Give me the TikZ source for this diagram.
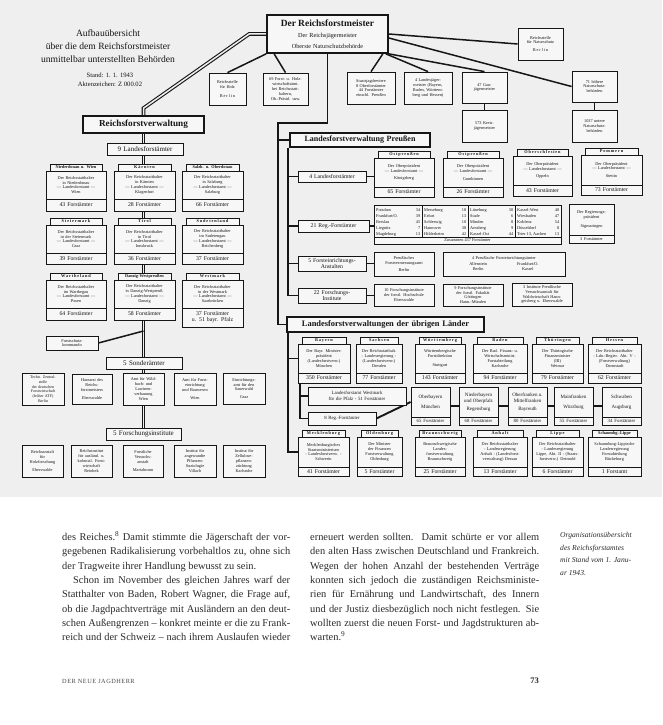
\documentclass[tikz,border=0pt]{standalone}
\usepackage{fontspec}
\setmainfont{Liberation Serif}
\usetikzlibrary{calc}
\definecolor{ink}{HTML}{161616}
\definecolor{bgc}{HTML}{EFEFEF}
\definecolor{boxf}{HTML}{F7F7F7}
\definecolor{txt}{HTML}{2A2A2A}
\pgfdeclarelayer{bgl}\pgfdeclarelayer{lnl}\pgfsetlayers{bgl,lnl,main}
\newcommand\tsz{\fontsize{4.3}{4.9}\selectfont}
\newcommand\csz{\fontsize{5.8}{6.2}\selectfont}
\newcommand\hsz{\fontsize{4.3}{4.5}\selectfont\bfseries}
\newcommand\lsp[1]{{\addfontfeatures{LetterSpace=20}#1}}
\newcommand\ssz{\fontsize{4.8}{5}\selectfont}
\tikzset{
 bx/.style={draw=ink,fill=boxf,line width=0.8pt,inner sep=0pt,align=center,font=\tsz,text=ink},
 upper/.style={},
 lower/.style={font=\csz},
 hdr/.style={font=\hsz},
 heavy/.style={line width=1.7pt},
 dbl/.style={draw=ink,line width=1.1pt,double=bgc,double distance=1.5pt},
 thk/.style={draw=ink,line width=1.9pt},
 ln/.style={draw=ink,line width=1.5pt},
 body/.style={font=\fontsize{10.4}{12}\selectfont,text=txt,inner sep=0pt,anchor=base west},
}
\newcommand\mybox[7][]{%
 \pgfmathsetmacro\bw{#5-#3}\pgfmathsetmacro\bh{#6-#4}%
 \pgfmathsetmacro\btw{#5-#3-1.5}%
 \pgfmathsetmacro\bcx{(#3+#5)/2}\pgfmathsetmacro\bcy{(#4+#6)/2}%
 \node[bx,minimum width=\bw pt,minimum height=\bh pt,text width=\btw pt,#1] (#2) at (\bcx,\bcy) {#7};}
\newcommand\splitbox[8]{%
 \mybox[upper]{#1}{#2}{#3}{#4}{#5}{#7}%
 \mybox[lower]{#1c}{#2}{#5}{#4}{#6}{#8}}
\newcommand\landbox[9]{%
 \pgfmathsetmacro\hxa{#2+4}\pgfmathsetmacro\hxb{#4-4}\pgfmathsetmacro\hya{#3-7}%
 \mybox[hdr]{#1h}{\hxa}{\hya}{\hxb}{#3}{#7}%
 \splitbox{#1}{#2}{#3}{#4}{#5}{#6}{#8}{#9}}
\newcommand\jl[1]{\makebox[228pt][s]{\spaceskip=0.25em plus 0.4em minus 0.1em #1}}
\newcommand\jr[1]{\makebox[229pt][s]{\spaceskip=0.25em plus 0.4em minus 0.1em #1}}
\begin{document}
\begin{tikzpicture}[x=1pt,y=-1pt]
\useasboundingbox (0,0) rectangle (662,725);
\begin{pgfonlayer}{bgl}
\fill[white] (0,0) rectangle (662,725);
\fill[bgc] (0,0) rectangle (662,497);
\end{pgfonlayer}

% title
\node[font=\fontsize{9.6}{13}\selectfont,text=ink,align=center] (ttl) at (108,46) {Aufbauübersicht\\über die dem Reichsforstmeister\\unmittelbar unterstellten Behörden};
\node[font=\fontsize{6.6}{9}\selectfont,text=ink,align=center] (stand) at (110,80) {Stand: 1. 1. 1943\\Aktenzeichen: Z 000.02};

% top
\mybox[heavy,font=\fontsize{6.2}{11}\selectfont]{rfm}{267}{15}{388}{53}{{\fontsize{9.5}{11}\selectfont\bfseries Der Reichsforstmeister}\\Der Reichsjägermeister\\Oberste Naturschutzbehörde}
\mybox{rsh}{209}{73}{246}{105}{Reichsstelle\\für Holz\\[4pt]\lsp{Berlin}}
\mybox{fha}{263}{73}{308}{105}{69 Forst- u. Holz-\\wirtschaftsämt.\\bei Reichsstatt-\\haltern,\\Ob.-Präsid. usw.}
\mybox{rsn}{518}{28}{563}{60}{Reichsstelle\\für Naturschutz\\[3pt]\lsp{Berlin}}
\mybox{sjr}{347}{72}{395}{104}{Staatsjagdreviere\\8 Oberforstämter\\44 Forstämter\\einschl. Preußen}
\mybox{ljm}{404}{72}{452}{104}{4 Landesjäger-\\meister (Bayern,\\Baden, Württem-\\berg und Hessen)}
\mybox{gjm}{462}{72}{507}{103}{47 Gau-\\jägermeister}
\mybox{kjm}{462}{110}{507}{142}{573 Kreis-\\jägermeister}
\mybox{hnb}{572}{71}{617}{102}{71 höhere\\Naturschutz-\\behörden}
\mybox{unb}{572}{110}{617}{142}{1037 untere\\Naturschutz-\\behörden}

% Reichsforstverwaltung
\mybox[heavy,font=\fontsize{9.2}{10}\selectfont\bfseries]{rfv}{83}{116}{204}{133}{Reichsforstverwaltung}
\mybox[font=\fontsize{7}{8}\selectfont]{lfa9}{107}{143}{183}{155}{9 Landesforstämter}
\landbox{ndw}{46}{171}{106}{199}{211}{Niederdonau u. Wien}{Der Reichsstatthalter\\in Niederdonau\\— Landesforstamt —\\Wien}{43 Forstämter}
\landbox{kae}{114}{171}{175}{199}{211}{\lsp{Kärnten}}{Der Reichsstatthalter\\in Kärnten\\— Landesforstamt —\\Klagenfurt}{28 Forstämter}
\landbox{sob}{182}{171}{243}{199}{211}{Salzb. u. Oberdonau}{Der Reichsstatthalter\\in Salzburg\\— Landesforstamt —\\Salzburg}{66 Forstämter}
\landbox{stm}{46}{225}{106}{253}{264}{\lsp{Steiermark}}{Der Reichsstatthalter\\in der Steiermark\\— Landesforstamt —\\Graz}{39 Forstämter}
\landbox{tir}{114}{225}{175}{253}{264}{\lsp{Tirol}}{Der Reichsstatthalter\\in Tirol\\— Landesforstamt —\\Innsbruck}{36 Forstämter}
\landbox{sud}{182}{225}{243}{253}{264}{\lsp{Sudetenland}}{Der Reichsstatthalter\\im Sudetengau\\— Landesforstamt —\\Reichenberg}{37 Forstämter}
\landbox{wal}{46}{280}{106}{308}{320}{\lsp{Wartheland}}{Der Reichsstatthalter\\im Warthegau\\— Landesforstamt —\\Posen}{64 Forstämter}
\landbox{dwp}{114}{280}{175}{308}{320}{Danzig-Westpreußen}{Der Reichsstatthalter\\in Danzig-Westpreuß.\\— Landesforstamt —\\Danzig}{58 Forstämter}
\landbox{wem}{182}{280}{243}{308}{327}{\lsp{Westmark}}{Der Reichsstatthalter\\in der Westmark\\— Landesforstamt —\\Saarbrücken}{37 Forstämter\\u. 51 bayr. Pfalz}
\mybox{fsk}{46}{336}{98}{350}{Forstschutz-\\kommando}
\mybox[font=\fontsize{7}{8}\selectfont]{sa5}{106}{357}{182}{369}{5 Sonderämter}
\mybox[font=\fontsize{4}{4.7}\selectfont]{tza}{22}{373}{64}{405}{Techn. Zentral-\\stelle\\der deutschen\\Forstwirtschaft\\(früher ATF)\\Berlin}
\mybox{hrf}{72}{374}{112}{404}{Harzarzt des\\Reichs-\\forstmeisters\\[3pt]Eberswalde}
\mybox{awl}{123}{373}{164}{405}{Amt für Wild-\\bach- und\\Lawinen-\\verbauung\\Wien}
\mybox{afe}{174}{373}{216}{405}{Amt für Forst-\\einrichtung\\und Bauwesen\\[3pt]Wien}
\mybox{eas}{223}{373}{265}{404}{Einrichtungs-\\amt für den\\Sauerwald\\[3pt]Graz}
\mybox[font=\fontsize{7}{8}\selectfont]{fi5}{106}{428}{181}{440}{5 Forschungsinstitute}
\mybox{rah}{22}{445}{63}{477}{Reichsanstalt\\für\\Holzforschung\\[3pt]Eberswalde}
\mybox{rau}{71}{445}{112}{477}{Reichsinstitut\\für ausländ. u.\\kolonial. Forst-\\wirtschaft\\Reinbek}
\mybox{fva}{123}{445}{163}{477}{Forstliche\\Versuchs-\\anstalt\\[3pt]Mariabrunn}
\mybox{ips}{174}{445}{216}{477}{Institut für\\angewandte\\Pflanzen-\\Soziologie\\Villach}
\mybox{izp}{223}{445}{265}{477}{Institut für\\Zellulose-\\pflanzen-\\züchtung\\Karlsruhe}

% Preussen
\mybox[heavy,font=\fontsize{8}{9}\selectfont\bfseries]{lfp}{290}{133}{430}{147}{Landesforstverwaltung Preußen}
\mybox[font=\csz]{lfa4}{298}{171}{366}{182}{4 Landesforstämter}
\mybox[font=\csz]{rf21}{298}{220}{369}{232}{21 Reg.-Forstämter}
\mybox[font=\fontsize{5.8}{6.3}\selectfont]{fea5}{298}{256}{366}{271}{5 Forsteinrichtungs-\\Anstalten}
\mybox[font=\fontsize{5.8}{6.3}\selectfont]{fi22}{298}{288}{366}{303}{22 Forschungs-\\Institute}
\landbox{opa}{374}{158}{434}{187}{197}{\lsp{Ostpreußen}}{Der Oberpräsident\\— Landesforstamt —\\[3pt]Königsberg}{65 Forstämter}
\landbox{opb}{443}{158}{503}{187}{197}{\lsp{Ostpreußen}}{Der Oberpräsident\\— Landesforstamt —\\[3pt]Gumbinnen}{26 Forstämter}
\landbox{osl}{513}{156}{572}{185}{196}{\lsp{Oberschlesien}}{Der Oberpräsident\\— Landesforstamt —\\[3pt]Oppeln}{43 Forstämter}
\landbox{pom}{581}{155}{642}{185}{195}{\lsp{Pommern}}{Der Oberpräsident\\— Landesforstamt —\\[3pt]Stettin}{73 Forstämter}
\mybox{rtab}{374}{205}{561}{244}{}
\draw[ink,line width=0.6pt] (374,237) -- (561,237) (422,205) -- (422,237) (468,205) -- (468,237) (515,205) -- (515,237);
\node[font=\fontsize{4.3}{6}\selectfont,text=ink,inner sep=0,anchor=north west] (rca) at (376,207) {\begin{tabular*}{44pt}{@{}l@{\extracolsep{\fill}}r@{}}Potsdam&34\\Frankfurt/O.&39\\Breslau&45\\Liegnitz&7\\Magdeburg&13\end{tabular*}};
\node[font=\fontsize{4.3}{6}\selectfont,text=ink,inner sep=0,anchor=north west] (rcb) at (424,207) {\begin{tabular*}{42pt}{@{}l@{\extracolsep{\fill}}r@{}}Merseburg&18\\Erfurt&13\\Schleswig&10\\Hannover&38\\Hildesheim&42\end{tabular*}};
\node[font=\fontsize{4.3}{6}\selectfont,text=ink,inner sep=0,anchor=north west] (rcc) at (470,207) {\begin{tabular*}{43pt}{@{}l@{\extracolsep{\fill}}r@{}}Lüneburg&30\\Stade&6\\Minden&8\\Arnsberg&9\\Kassel-Ost&44\end{tabular*}};
\node[font=\fontsize{4.3}{6}\selectfont,text=ink,inner sep=0,anchor=north west] (rcd) at (517,207) {\begin{tabular*}{42pt}{@{}l@{\extracolsep{\fill}}r@{}}Kassel-West&40\\Wiesbaden&47\\Koblenz&54\\Düsseldorf&8\\Trier 13, Aachen&13\end{tabular*}};
\node[font=\tsz,text=ink] (rtz) at (467.5,240.5) {Zusammen 437 Forstämter};
\splitbox{sig}{569}{204}{614}{235}{243}{Der Regierungs-\\präsident\\[4pt]Sigmaringen}{{\tsz 3 Forstämter}}
\mybox{pfv}{374}{252}{434}{276}{Preußisches\\Forstvermessungsamt\\[2pt]Berlin}
\mybox{pfe}{443}{252}{565}{276}{4 Preußische Forsteinrichtungsämter\\[1pt]\begin{tabular}{@{}c@{\hspace{30pt}}c@{}}Allenstein&Frankfurt/O.\\Berlin&Kassel\end{tabular}}
\mybox{fhe}{374}{284}{434}{306}{10 Forschungsinstitute\\der forstl. Hochschule\\Eberswalde}
\mybox{fgo}{443}{284}{503}{306}{9 Forschungsinstitute\\der forstl. Fakultät\\Göttingen\\Hann.-Münden}
\mybox{fvw}{512}{283}{572}{306}{3 Institute Preußische\\Versuchsanstalt für\\Waldwirtschaft Hann-\\geisberg u. Eberswalde}

% uebrige Laender
\mybox[heavy,font=\fontsize{8.4}{9}\selectfont\bfseries]{lfu}{287}{317}{484}{332}{Landesforstverwaltungen der übrigen Länder}
\landbox{bay}{298}{344}{350}{373}{383}{\lsp{Bayern}}{Der Bayr. Minister-\\präsident\\(Landesforstverw.)\\München}{350 Forstämter}
\landbox{sac}{356}{344}{402}{373}{383}{\lsp{Sachsen}}{Der Reichsstatthalt.\\- Landesregierung -\\(Landesforstverw.)\\Dresden}{77 Forstämter}
\landbox{wue}{415}{344}{465}{373}{383}{\lsp{Württemberg}}{Württembergische\\Forstdirektion\\[4pt]Stuttgart}{143 Forstämter}
\landbox{bad}{473}{344}{527}{373}{383}{\lsp{Baden}}{Der Bad. Finanz- u.\\Wirtschaftsminist.\\Forstabteilung\\Karlsruhe}{94 Forstämter}
\landbox{thu}{532}{344}{583}{373}{383}{\lsp{Thüringen}}{Der Thüringische\\Finanzminister\\(III)\\Weimar}{79 Forstämter}
\landbox{hes}{588}{344}{641}{373}{383}{\lsp{Hessen}}{Der Reichsstatthalter\\- Ldn.-Regier. Abt. V -\\(Forstverwaltung)\\Darmstadt}{62 Forstämter}
\mybox[font=\fontsize{4.8}{6}\selectfont]{lfw}{308}{387}{406}{405}{Landesforstamt Westmark\\für die Pfalz - 51 Forstämter}
\mybox[font=\fontsize{4.8}{6}\selectfont]{rsa}{308}{412}{376}{425}{8 Reg.-Forstämter}
\splitbox{obb}{411}{387}{450}{417}{425}{\fontsize{5}{6}\selectfont Oberbayern\\[5pt]München}{\ssz 65 Forstämter}
\splitbox{nby}{459}{387}{498}{417}{425}{\fontsize{5}{6}\selectfont Niederbayern\\und Oberpfalz\\[3pt]Regensburg}{\ssz 68 Forstämter}
\splitbox{ofr}{508}{387}{547}{417}{425}{\fontsize{5}{6}\selectfont Oberfranken u.\\Mittelfranken\\[3pt]Bayreuth}{\ssz 80 Forstämter}
\splitbox{mfr}{554}{387}{593}{417}{425}{\fontsize{5}{6}\selectfont Mainfranken\\[5pt]Würzburg}{\ssz 55 Forstämter}
\splitbox{swb}{602}{387}{641}{417}{425}{\fontsize{5}{6}\selectfont Schwaben\\[5pt]Augsburg}{\ssz 34 Forstämter}
\landbox{mec}{298}{437}{349}{467}{476}{\lsp{Mecklenburg}}{Mecklenburgisches\\Staatsministerium\\- Landesforstverw. -\\Schwerin}{41 Forstämter}
\landbox{old}{357}{437}{402}{467}{476}{\lsp{Oldenburg}}{Der Minister\\der Finanzen\\Forstverwaltung\\Oldenburg}{5 Forstämter}
\landbox{brs}{415}{437}{465}{467}{476}{\lsp{Braunschweig}}{Braunschweigische\\Landes-\\forstverwaltung\\Braunschweig}{25 Forstämter}
\landbox{anh}{473}{437}{527}{467}{476}{\lsp{Anhalt}}{Der Reichsstatthalter\\- Landesregierung\\Anhalt - (Landesforst-\\verwaltung) Dessau}{13 Forstämter}
\landbox{lip}{532}{437}{583}{467}{476}{\lsp{Lippe}}{Der Reichsstatthalter\\- Landesregierung\\Lippe, Abt. II - (Staats-\\forstverw.) Detmold}{6 Forstämter}
\landbox{sli}{588}{437}{641}{467}{476}{Schaumbg.-Lippe}{Schaumburg-Lippische\\Landesregierung\\Forstabteilung\\Bückeburg}{1 Forstamt}

% connectors
\begin{pgfonlayer}{lnl}
\draw[dbl] (rfm.west) -- ([xshift=-17pt]rfm.west) -- ([yshift=7pt]rfv.north) -- (rfv.north);
\draw[dbl] (rfv.south) -- (fi5.north);
\coordinate (ja) at (143.5,331);
\draw[ln] (fsk.east) -- (ja);
\draw[ln] (rfm.south west) -- (rsh.north);
\draw[ln] ([xshift=8pt]rfm.south west) -- (fha.north);
\draw[ln] (rfm.east) -- (rsn.west);
\draw[ln] ([yshift=-4pt]rfm.east) -- (hnb.west);
\draw[ln] ([xshift=-6pt]rfm.south east) -- (sjr.north);
\draw[ln] ([xshift=-3pt]rfm.south east) -- (ljm.north);
\draw[ln] (rfm.south east) -- (gjm.north);
\draw[thk] (gjm.south) -- (kjm.north);
\draw[thk] (hnb.south) -- (unb.north);
\coordinate (ta) at (278,123);
\draw[thk] (rfm.south) |- (ta) -- (ta |- lfu.west) -- (lfu.west);
\draw[thk] (ta |- lfp.west) -- (lfp.west);
\coordinate (pa) at ([xshift=-1pt]lfp.south west);
\draw[thk] (pa) -- (pa |- fi22.west) -- (fi22.west);
\draw[thk] (pa |- lfa4.west) -- (lfa4.west);
\draw[thk] (pa |- rf21.west) -- (rf21.west);
\draw[thk] (pa |- fea5.west) -- (fea5.west);
\draw[thk] (lfa4.east) -- (lfa4.east -| opa.west);
\draw[thk] (rf21.east) -- (rf21.east -| rtab.west);
\draw[thk] (fea5.east) -- (fea5.east -| pfv.west);
\draw[thk] (fi22.east) -- (fi22.east -| fhe.west);
\coordinate (ua) at ([xshift=2pt]lfu.south west);
\draw[thk] (ua) -- (ua |- mec.west) -- (mec.west);
\draw[thk] (ua |- bay.west) -- (bay.west);
\coordinate (ub) at ([xshift=2pt]bayc.south west);
\draw[thk] (ub) -- (ub |- rsa.west) -- (rsa.west);
\draw[thk] (ub |- lfw.west) -- (lfw.west);
\draw[thk] (rsa.east) -- (obb.west);
\draw[thk] ([yshift=-4pt]obb.east) -- ([yshift=-4pt]nby.west);
\draw[thk] ([yshift=-4pt]nby.east) -- ([yshift=-4pt]ofr.west);
\draw[thk] ([yshift=-4pt]ofr.east) -- ([yshift=-4pt]mfr.west);
\draw[thk] ([yshift=-4pt]mfr.east) -- ([yshift=-4pt]swb.west);
\end{pgfonlayer}

% body text
\node[body] (la) at (62,540.5) {\jl{des Reiches.\textsuperscript{8} Damit stimmte die Jägerschaft der vor-}};
\node[body] (lb) at (62,554.8) {\jl{gegebenen Radikalisierung vorbehaltlos zu, ohne sich}};
\node[body] (lc) at (62,569.1) {der Tragweite ihrer Handlung bewusst zu sein.};
\node[body] (ld) at (62,583.4) {\jl{\hspace*{11pt}Schon im November des gleichen Jahres warf der}};
\node[body] (le) at (62,597.7) {\jl{Statthalter von Baden, Robert Wagner, die Frage auf,}};
\node[body] (lf) at (62,612.0) {\jl{ob die Jagdpachtverträge mit Ausländern an den deut-}};
\node[body] (lg) at (62,626.3) {\jl{schen Außengrenzen – konkret meinte er die zu Frank-}};
\node[body] (lh) at (62,640.6) {\jl{reich und der Schweiz – nach ihrem Auslaufen wieder}};
\node[body] (ra) at (310,540.5) {\jr{erneuert werden sollten. Damit schürte er vor allem}};
\node[body] (rb) at (310,554.8) {\jr{den alten Hass zwischen Deutschland und Frankreich.}};
\node[body] (rc) at (310,569.1) {\jr{Wegen der hohen Anzahl der bestehenden Verträge}};
\node[body] (rd) at (310,583.4) {\jr{konnten sich jedoch die zuständigen Reichsministe-}};
\node[body] (re) at (310,597.7) {\jr{rien für Ernährung und Landwirtschaft, des Innern}};
\node[body] (rf) at (310,612.0) {\jr{und der Justiz diesbezüglich noch nicht festlegen. Sie}};
\node[body] (rg) at (310,626.3) {\jr{wollten zuerst die neuen Forst- und Jagdstrukturen ab-}};
\node[body] (rh) at (310,640.6) {warten.\textsuperscript{9}};
\node[font=\fontsize{7.6}{12.7}\selectfont\itshape,text=txt,align=left,anchor=north west,inner sep=0pt] (cap) at (560,532) {Organisationsübersicht\\des Reichsforstamtes\\mit Stand vom 1. Janu-\\ar 1943.};
\node[font=\fontsize{6.3}{7}\selectfont,text=txt!85,anchor=base west,inner sep=0pt] (ft) at (62,683) {\addfontfeatures{LetterSpace=8}DER NEUE JAGDHERR};
\node[font=\fontsize{8.5}{9}\selectfont\bfseries,text=txt,anchor=base east,inner sep=0pt] (pg) at (539,683) {73};
\end{tikzpicture}
\end{document}
